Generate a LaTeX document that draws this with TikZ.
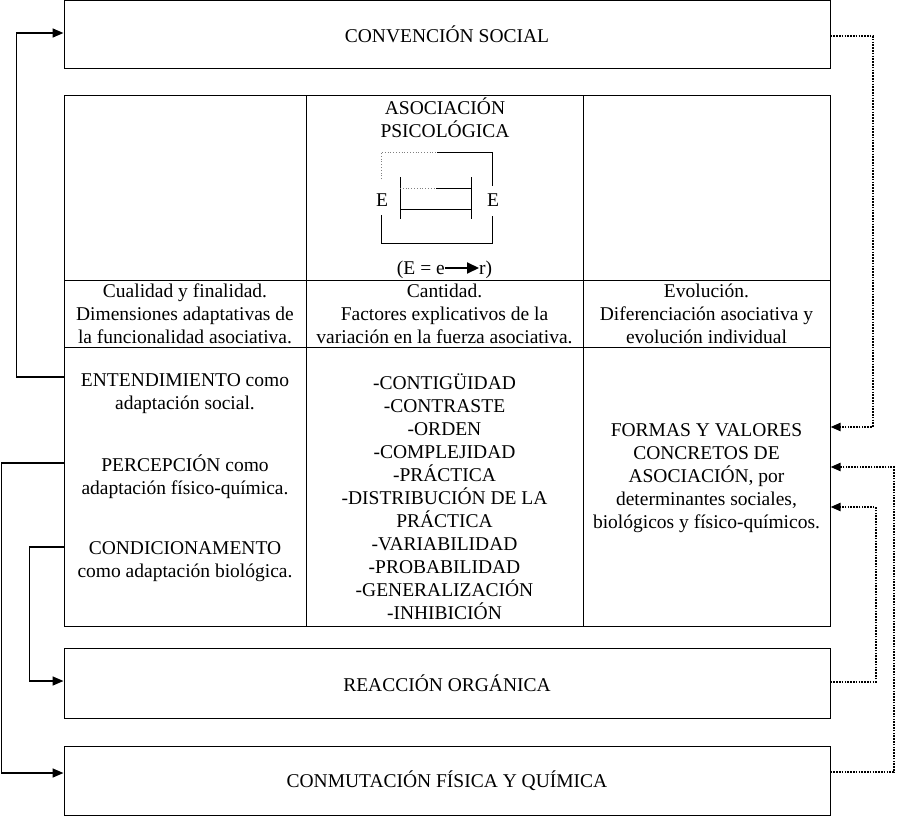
\documentclass[tikz,border=0pt]{standalone}
\usepackage{fontspec}
\setmainfont{Liberation Serif}
\usetikzlibrary{arrows.meta}
\newcommand{\fsz}{\fontsize{19.5}{23}\selectfont}
\begin{document}
\begin{tikzpicture}[x=1pt,y=-1pt,
 box/.style={draw, line width=1pt, rectangle, inner sep=0pt},
 txt/.style={align=center, inner sep=0pt, font=\fsz, execute at begin node=\strut, execute at end node=\strut},
 conn/.style={line width=1.6pt, -{Triangle[length=11pt,width=9pt]}},
 dconn/.style={line width=2pt, dash pattern=on 1.6pt off 1.2pt, -{Triangle[length=10pt,width=8pt]}},
 mini/.style={line width=1pt},
 minidot/.style={line width=0.8pt, gray, dotted}]
\useasboundingbox (0,0) rectangle (897,816);

% outer boxes
\node[box, minimum width=766pt, minimum height=68pt] (conv) at (447,35) {};
\node[box, minimum width=766pt, minimum height=70pt] (reac) at (447,683) {};
\node[box, minimum width=766pt, minimum height=69pt] (conm) at (447,780.5) {};
\node[txt] (convt) at (447,38) {CONVENCIÓN SOCIAL};
\node[txt] (react) at (447,687) {REACCIÓN ORGÁNICA};
\node[txt] (conmt) at (447,783) {CONMUTACIÓN FÍSICA Y QUÍMICA};

% table cells
\node[box, minimum width=242pt, minimum height=185pt] (c11) at (185,187.5) {};
\node[box, minimum width=277pt, minimum height=185pt] (c12) at (444.5,187.5) {};
\node[box, minimum width=247pt, minimum height=185pt] (c13) at (706.5,187.5) {};
\node[box, minimum width=242pt, minimum height=67pt] (c21) at (185,313.5) {};
\node[box, minimum width=277pt, minimum height=67pt] (c22) at (444.5,313.5) {};
\node[box, minimum width=247pt, minimum height=67pt] (c23) at (706.5,313.5) {};
\node[box, minimum width=242pt, minimum height=279pt] (c31) at (185,486.5) {};
\node[box, minimum width=277pt, minimum height=279pt] (c32) at (444.5,486.5) {};
\node[box, minimum width=247pt, minimum height=279pt] (c33) at (706.5,486.5) {};

% texts
\node[txt] (asoc) at (445,121.5) {ASOCIACIÓN\\PSICOLÓGICA};
\node[txt] (t21) at (185,317.5) {Cualidad y finalidad.\\Dimensiones adaptativas de\\la funcionalidad asociativa.};
\node[txt] (t22) at (444.5,317.5) {Cantidad.\\Factores explicativos de la\\variación en la fuerza asociativa.};
\node[txt] (t23) at (706.5,317.5) {Evolución.\\Diferenciación asociativa y\\evolución individual};
\node[txt] (ent) at (185,394.5) {ENTENDIMIENTO como\\adaptación social.};
\node[txt] (per) at (185,478) {PERCEPCIÓN como\\adaptación físico-química.};
\node[txt] (con) at (185,563) {CONDICIONAMENTO\\como adaptación biológica.};
\node[txt] (lst) at (444.5,500.5) {-CONTIGÜIDAD\\-CONTRASTE\\-ORDEN\\-COMPLEJIDAD\\-PRÁCTICA\\-DISTRIBUCIÓN DE LA\\PRÁCTICA\\-VARIABILIDAD\\-PROBABILIDAD\\-GENERALIZACIÓN\\-INHIBICIÓN};
\node[txt] (frm) at (706.5,479) {FORMAS Y VALORES\\CONCRETOS DE\\ASOCIACIÓN, por\\determinantes sociales,\\biológicos y físico-químicos.};

% mini diagram
\node[txt] (e1) at (382,202) {E};
\node[txt] (e2) at (493,202) {E};
\draw[minidot] (381,179) -- (381,152) -- (437,152);
\draw[mini] (437,152) -- (492,152) -- (492,186);
\draw[mini] (381,215) -- (381,243) -- (492,243) -- (492,216);
\draw[mini] (400,177) -- (400,219);
\draw[mini] (471,177) -- (471,219);
\draw[minidot] (400,188) -- (436,188);
\draw[mini] (436,188) -- (471,188);
\draw[mini] (400,209) -- (471,209);
\node[txt, anchor=east] (ee) at (445,270) {(E = e};
\node[txt, anchor=west] (rr) at (479,270) {r)};
\draw[line width=2pt, -{Triangle[length=12pt,width=11pt]}] ([yshift=2pt]ee.east) -- ([yshift=2pt]rr.west);

% left connectors
\draw[conn] ([yshift=109.5pt]c31.west) -- ++(-47,0) |- ([yshift=2pt]conv.west);
\draw[conn] ([yshift=23.5pt]c31.west) -- ++(-62,0) |- ([yshift=7.5pt]conm.west);
\draw[conn] ([yshift=-60.5pt]c31.west) -- ++(-34,0) |- ([yshift=2pt]reac.west);

% right dotted connectors
\draw[dconn] ([yshift=-1pt]conv.east) -- ++(42,0) |- ([yshift=59.5pt]c33.east);
\draw[dconn] ([yshift=8.5pt]conm.east) -- ++(63,0) |- ([yshift=19.5pt]c33.east);
\draw[dconn] ([yshift=1pt]reac.east) -- ++(45,0) |- ([yshift=-20.5pt]c33.east);
\end{tikzpicture}
\end{document}
